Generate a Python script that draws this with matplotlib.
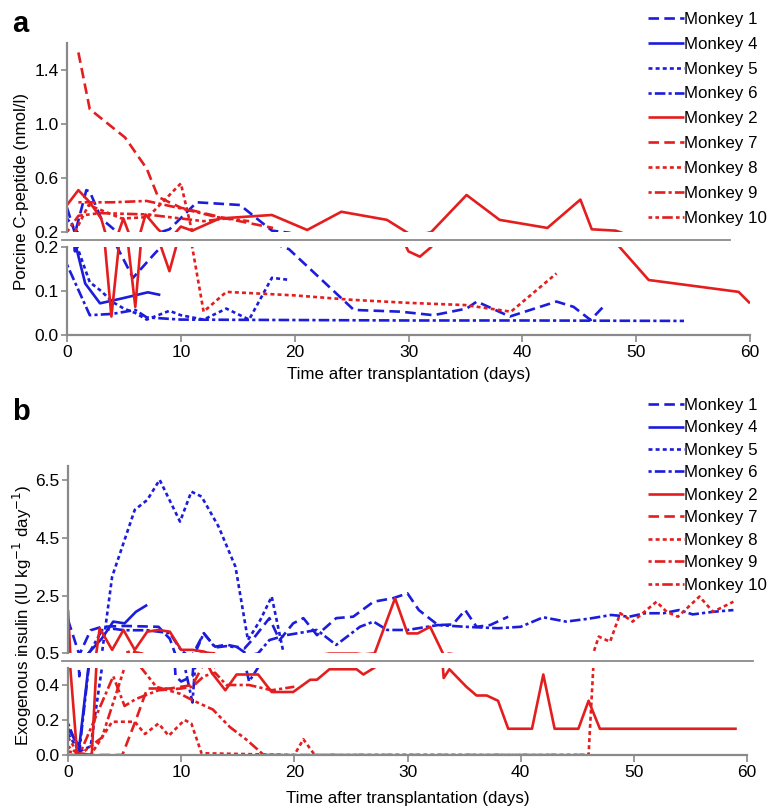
import matplotlib
matplotlib.use('Agg')
import matplotlib.pyplot as plt
import matplotlib.ticker as mticker
from matplotlib.lines import Line2D

plt.rcParams['font.family'] = ['Liberation Sans', 'DejaVu Sans']

W, H = 770, 810
BLUE = '#1c1cdc'
RED = '#e41e1e'
GRAY = '#8a8a8a'

# ---------------- legend / styles ----------------
monkey_names = ['Monkey 1', 'Monkey 4', 'Monkey 5', 'Monkey 6', 'Monkey 2',
                'Monkey 7', 'Monkey 8', 'Monkey 9', 'Monkey 10']
monkey_colors = [BLUE, BLUE, BLUE, BLUE, RED, RED, RED, RED, RED]

# ---------------- panel a : porcine C-peptide (nmol/l) ----------------
a_m1_days = [0, 0.7, 1.7, 2, 3, 4.4, 5.8, 7.7, 9, 11.4, 15.2, 18, 19.5, 25.2, 29.3, 32.2, 35.1, 36, 38.9, 43, 44.5, 46, 47.1]
a_m1_vals = [0.38, 0.19, 0.51, 0.5, 0.3, 0.2, 0.13, 0.185, 0.22, 0.42, 0.40, 0.21, 0.195, 0.057, 0.053, 0.045, 0.06, 0.076, 0.042, 0.076, 0.064, 0.034, 0.064]
a_m4_days = [0.8, 1.6, 2.9, 4.8, 7.1, 8.2]
a_m4_vals = [0.2, 0.117, 0.072, 0.083, 0.097, 0.091]
a_m5_days = [0, 0.9, 2, 3, 4, 5, 6, 7, 8, 9, 10, 12, 14, 16, 18, 19.6]
a_m5_vals = [0.3, 0.2, 0.12, 0.1, 0.075, 0.06, 0.05, 0.035, 0.045, 0.055, 0.045, 0.035, 0.06, 0.035, 0.13, 0.125]
a_m6_days = [0, 2, 4, 6, 7, 10, 20, 30, 40, 54.2]
a_m6_vals = [0.16, 0.045, 0.048, 0.057, 0.04, 0.035, 0.034, 0.033, 0.033, 0.032]
a_m2_days = [0, 1, 2, 3, 3.9, 4.95, 6, 6.9, 8, 9, 10, 11, 13.4, 18, 21.1, 24.1, 28.1, 30, 31, 32, 35.1, 38, 42.2, 45.1, 46.1, 48.2, 51.1, 59, 60]
a_m2_vals = [0.4, 0.51, 0.42, 0.3, 0.042, 0.3, 0.064, 0.33, 0.22, 0.145, 0.24, 0.21, 0.30, 0.326, 0.215, 0.35, 0.29, 0.19, 0.178, 0.2, 0.474, 0.29, 0.23, 0.44, 0.22, 0.21, 0.125, 0.098, 0.072]
a_m7_days = [1, 2, 5.1, 7, 8, 10, 14, 18.1]
a_m7_vals = [1.53, 1.11, 0.9, 0.67, 0.46, 0.38, 0.3, 0.23]
a_m8_days = [0.7, 1.9, 4.8, 7.1, 10, 11, 12, 14, 20, 25, 30, 35, 39, 43]
a_m8_vals = [0.2, 0.4, 0.3, 0.31, 0.56, 0.2, 0.053, 0.098, 0.09, 0.08, 0.073, 0.068, 0.053, 0.14]
a_m9_days = [1, 4, 7, 10, 13.2, 16]
a_m9_vals = [0.42, 0.42, 0.43, 0.375, 0.31, 0.28]
a_m10_days = [0, 1, 2.9, 7, 10, 12, 14]
a_m10_vals = [0.2, 0.32, 0.34, 0.33, 0.3, 0.28, 0.3]

# ---------------- panel b : exogenous insulin ----------------
b_m1_days = [0, 1, 2, 3, 5, 8, 9, 9.5, 10, 11, 12, 13, 14, 15.6, 16.4, 17.8, 18.7, 19.9, 20.8, 22, 23.7, 25.2, 27, 28.7, 30, 31, 32.7, 34, 35.1, 36.1, 37.3, 38.9]
b_m1_vals = [1.66, 0.45, 1.3, 1.42, 1.45, 1.42, 1.0, 0.45, 0.42, 0.45, 1.19, 0.73, 0.8, 0.67, 1.02, 1.72, 0.96, 1.54, 1.72, 1.13, 1.72, 1.77, 2.29, 2.41, 2.58, 2.0, 1.48, 1.5, 2.0, 1.42, 1.48, 1.77]
b_m4_days = [0, 1, 1.8, 3, 4, 5, 6, 7]
b_m4_vals = [0.15, 0.05, 0.5, 1.02, 1.6, 1.54, 1.94, 2.18]
b_m5_days = [0, 1, 2, 3, 3.9, 4.9, 5.9, 7, 8.1, 9.9, 10.9, 11.8, 13.3, 14.8, 15.9, 17, 18, 19]
b_m5_vals = [0.12, 0.02, 0.05, 0.5, 3.16, 4.32, 5.48, 5.82, 6.52, 5.07, 6.11, 5.94, 4.9, 3.5, 0.96, 1.66, 2.47, 0.6]
b_m6_days = [0, 1, 2, 3, 4, 5, 7, 9, 10, 11, 12, 13, 14, 15, 16, 16.8, 17.8, 19.3, 22, 23.7, 25.8, 27, 28.2, 30, 32.7, 35.1, 38, 40, 42, 44, 46, 48, 49.6, 51, 52.6, 54, 55.2, 57, 58.8]
b_m6_vals = [0.18, 0.02, 0.6, 1.3, 1.35, 1.3, 1.3, 1.2, 0.6, 0.3, 1.2, 0.7, 0.75, 0.7, 0.42, 0.5, 0.96, 1.13, 1.31, 0.79, 1.42, 1.6, 1.31, 1.31, 1.48, 1.42, 1.37, 1.42, 1.75, 1.6, 1.7, 1.83, 1.77, 1.89, 1.89, 2.0, 1.85, 1.94, 2.0]
b_m2_days = [0, 0.2, 0.8, 2.1, 2.5, 2.8, 3.9, 4.9, 5.9, 7, 8, 9, 10, 11, 12, 12.7, 13.9, 14.9, 16.8, 18, 19.9, 21.4, 22, 23.1, 25.5, 26.1, 27.1, 28.9, 30, 30.9, 32, 33.2, 33.7, 35.2, 36.1, 37, 38, 38.9, 41, 42, 43, 45.1, 46, 47, 59.1]
b_m2_vals = [2.0, 0.5, 0.01, 0.0, 0.5, 1.37, 0.62, 1.31, 0.62, 1.25, 1.31, 1.25, 0.62, 0.62, 0.56, 0.47, 0.37, 0.46, 0.46, 0.36, 0.36, 0.43, 0.43, 0.49, 0.49, 0.46, 0.5, 2.41, 1.19, 1.19, 1.42, 0.44, 0.49, 0.39, 0.34, 0.34, 0.31, 0.15, 0.15, 0.46, 0.15, 0.15, 0.31, 0.15, 0.15]
b_m7_days = [0, 4.8, 6, 7, 9, 11, 12, 13]
b_m7_vals = [0.0, 0.0, 0.2, 0.38, 0.38, 0.4, 0.52, 0.5]
b_m8_days = [0, 2, 3, 3.9, 5.9, 6.8, 8, 8.9, 10.3, 10.9, 11.8, 20, 20.8, 21.8, 46, 46.9, 47.9, 48.8, 49.9, 52, 52.9, 53.9, 55.8, 57, 58.8]
b_m8_vals = [0.02, 0.0, 0.1, 0.19, 0.19, 0.12, 0.18, 0.11, 0.2, 0.18, 0.01, 0.0, 0.09, 0.0, 0.0, 1.08, 0.9, 1.89, 1.6, 2.29, 1.94, 1.77, 2.47, 1.94, 2.29]
b_m9_days = [0, 1, 2, 3, 4, 5, 6, 8, 10, 11, 12, 13, 14, 16, 18, 20]
b_m9_vals = [0.05, 0.0, 0.15, 0.3, 0.45, 0.28, 0.32, 0.37, 0.38, 0.39, 0.45, 0.47, 0.4, 0.4, 0.37, 0.39]
b_m10_days = [0, 1, 2, 3, 4, 5, 5.5, 6.2, 7.8, 9.9, 11.1, 12.8, 14.3, 15.8, 17.3, 30, 46]
b_m10_vals = [0.1, 0.0, 0.05, 0.1, 0.3, 0.5, 0.57, 0.52, 0.39, 0.35, 0.31, 0.26, 0.16, 0.086, 0.0, 0.0, 0.0]

panel_a = [(a_m1_days, a_m1_vals), (a_m4_days, a_m4_vals), (a_m5_days, a_m5_vals),
           (a_m6_days, a_m6_vals), (a_m2_days, a_m2_vals), (a_m7_days, a_m7_vals),
           (a_m8_days, a_m8_vals), (a_m9_days, a_m9_vals), (a_m10_days, a_m10_vals)]
panel_b = [(b_m1_days, b_m1_vals), (b_m4_days, b_m4_vals), (b_m5_days, b_m5_vals),
           (b_m6_days, b_m6_vals), (b_m2_days, b_m2_vals), (b_m7_days, b_m7_vals),
           (b_m8_days, b_m8_vals), (b_m9_days, b_m9_vals), (b_m10_days, b_m10_vals)]

LW = 1.9
DASH_LONG = (4, 2)
DASH_SHORT = (1.5, 1.2)
DASH_DOT = (1.2, 1.2, 4, 1.2)
DASH_DDL = (1.4, 1.2, 1.4, 1.2, 4, 1.2)
styles = [DASH_LONG, None, DASH_SHORT, DASH_DOT, None, DASH_LONG, DASH_SHORT, DASH_DOT, DASH_DDL]

x_ticks = [0, 10, 20, 30, 40, 50, 60]
FS = 12.2
TFS = 12.5

fig = plt.figure(figsize=(W / 100, H / 100), dpi=100)


def px_axes(left, right, top, bottom):
    return fig.add_axes([left / W, 1 - bottom / H, (right - left) / W, (bottom - top) / H])


def style_axes(ax, show_x, labelpad):
    for s in ['top', 'right']:
        ax.spines[s].set_visible(False)
    ax.spines['left'].set_color(GRAY)
    ax.spines['left'].set_linewidth(1.6)
    ax.tick_params(axis='y', direction='out', length=4, width=1.2, color=GRAY, labelsize=TFS, pad=2)
    ax.set_xlim(0, 60)
    ax.set_xticks(x_ticks)
    ax.patch.set_alpha(0)
    if show_x:
        ax.spines['bottom'].set_color(GRAY)
        ax.spines['bottom'].set_linewidth(1.6)
        ax.tick_params(axis='x', direction='out', length=5, width=1.2, color=GRAY, labelsize=TFS, pad=2)
        ax.set_xlabel('Time after transplantation (days)', fontsize=FS, labelpad=labelpad)
    else:
        ax.spines['bottom'].set_visible(False)
        ax.tick_params(axis='x', length=0, labelbottom=False)


def draw(ax, data):
    handles = []
    for (d, v), c, ds in zip(data, monkey_colors, styles):
        ln, = ax.plot(d, v, color=c, lw=LW, solid_capstyle='butt', dash_capstyle='butt')
        if ds is not None:
            ln.set_dashes(ds)
        handles.append(ln)
    return handles


def make_legend(handles, x_px, top_px, spacing):
    fig.legend(handles, monkey_names, loc='upper left',
               bbox_to_anchor=(x_px / W, 1 - top_px / H), frameon=False,
               fontsize=FS, handlelength=2.1, handletextpad=0.05,
               labelspacing=spacing, borderpad=0, borderaxespad=0)


fmt = mticker.FormatStrFormatter('%.1f')

# ---- panel a ----
a_top = px_axes(67, 750, 43, 232)
a_bot = px_axes(67, 750, 247, 335)
for ax, show in [(a_top, False), (a_bot, True)]:
    h = draw(ax, panel_a)
    style_axes(ax, show, 5)
a_top.set_ylim(0.2, 1.6)
a_top.set_yticks([0.2, 0.6, 1.0, 1.4])
a_bot.set_ylim(0, 0.2)
a_bot.set_yticks([0.0, 0.1, 0.2])
a_top.yaxis.set_major_formatter(fmt)
a_bot.yaxis.set_major_formatter(fmt)
fig.add_artist(Line2D([62 / W, 730 / W], [1 - 240 / H, 1 - 240 / H], color=GRAY, lw=1.3))
make_legend(h, 648, 12, 0.58)
fig.text(22 / W, 1 - 192 / H, 'Porcine C-peptide (nmol/l)', rotation=90,
         ha='center', va='center', fontsize=FS)
fig.text(12 / W, 1 - 32 / H, 'a', fontsize=21, fontweight='bold', va='baseline')

# ---- panel b ----
b_top = px_axes(68, 747, 466, 653.3)
b_bot = px_axes(68, 747, 667.5, 755)
for ax, show in [(b_top, False), (b_bot, True)]:
    h = draw(ax, panel_b)
    style_axes(ax, show, 8)
b_top.set_ylim(0.5, 7.0)
b_top.set_yticks([0.5, 2.5, 4.5, 6.5])
b_bot.set_ylim(0, 0.5)
b_bot.set_yticks([0.0, 0.2, 0.4])
b_bot.yaxis.set_major_formatter(fmt)
fig.add_artist(Line2D([62 / W, 753 / W], [1 - 661 / H, 1 - 661 / H], color=GRAY, lw=1.3))
make_legend(h, 648, 398, 0.44)
fig.text(22 / W, 1 - 615 / H, 'Exogenous insulin (IU kg$^{-1}$ day$^{-1}$)', rotation=90,
         ha='center', va='center', fontsize=FS)
fig.text(12 / W, 1 - 420 / H, 'b', fontsize=21, fontweight='bold', va='baseline')

fig.savefig('out.png', dpi=100)
